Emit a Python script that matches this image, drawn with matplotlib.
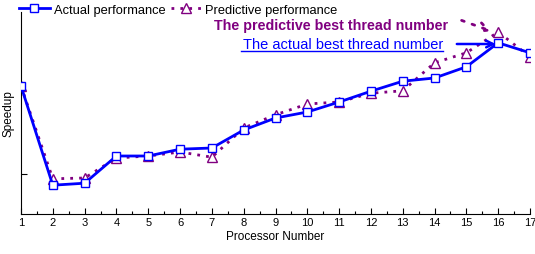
import matplotlib
matplotlib.use("Agg")
import matplotlib.pyplot as plt
from matplotlib.ticker import MultipleLocator

processors = list(range(1, 18))
actual = [3.2, 0.72, 0.77, 1.45, 1.45, 1.62, 1.65, 2.1, 2.4, 2.55, 2.8, 3.07, 3.32, 3.4, 3.68, 4.28, 4.03]
predictive = [3.2, 0.88, 0.9, 1.4, 1.45, 1.55, 1.42, 2.15, 2.48, 2.75, 2.8, 3.02, 3.08, 3.78, 4.03, 4.55, 3.93]
xtick_labels = [str(p) for p in processors]

plt.rcParams['font.family'] = ['Liberation Sans', 'DejaVu Sans']

fig = plt.figure(figsize=(5.35, 2.55), dpi=100)
ax = fig.add_axes([21/535, 40/255, 509/535, 202/255])

blue = '#0000ff'
purple = '#800080'

l1, = ax.plot(processors, actual, color=blue, lw=2, marker='s', ms=5.5,
              mfc='white', mec=blue, mew=1.0, label='Actual performance', zorder=3)
l2, = ax.plot(processors, predictive, color=purple, lw=2, ls=(0, (1, 2.2)), marker='^', ms=7,
              mfc='white', mec=purple, mew=1.0, label='Predictive performance', zorder=2)

ax.set_xlim(1, 17)
ax.set_ylim(0, 5.05)
ax.set_xticks(processors)
ax.set_xticklabels(xtick_labels, fontsize=8)
ax.xaxis.set_minor_locator(MultipleLocator(0.5))
ax.set_yticks([1])
ax.set_yticklabels([])
ax.tick_params(axis='both', which='major', direction='in', length=4, width=0.8, pad=2)
ax.tick_params(axis='x', which='minor', direction='in', length=2, width=0.8)
for s in ['top', 'right']:
    ax.spines[s].set_visible(False)
ax.set_xlabel('Processor Number', fontsize=8.5, labelpad=2)
ax.set_ylabel('Speedup', fontsize=8.5, labelpad=3)

leg = fig.legend(handles=[l1, l2], loc='upper left', bbox_to_anchor=(17/535, 0.99),
                 ncol=2, frameon=False, fontsize=9.3, handlelength=2.4, handletextpad=0.3,
                 columnspacing=0.4, borderaxespad=0.05, borderpad=0.1)

ax.text(14.43, 4.72, 'The predictive best thread number', fontsize=10.3, fontweight='bold',
        color=purple, ha='right', va='center')
ax.annotate('', xy=(15.78, 4.57), xytext=(14.85, 4.84),
            arrowprops=dict(arrowstyle='->', color=purple, lw=2, ls=(0, (1, 3)),
                            shrinkA=0, shrinkB=0, mutation_scale=16))
ax.text(14.27, 4.26, 'The actual best thread number', fontsize=10.5,
        color=blue, ha='right', va='center')
ax.plot([7.92, 14.27], [4.07, 4.07], color=blue, lw=1, clip_on=False)
ax.annotate('', xy=(15.92, 4.25), xytext=(14.7, 4.25),
            arrowprops=dict(arrowstyle='->', color=blue, lw=1.8,
                            shrinkA=0, shrinkB=0, mutation_scale=12))

fig.savefig('out.png', dpi=100)
